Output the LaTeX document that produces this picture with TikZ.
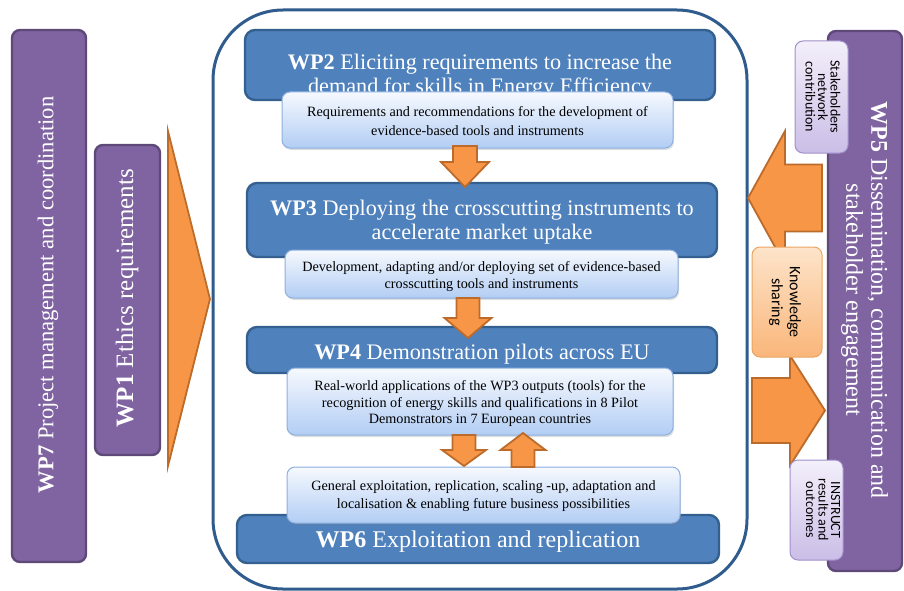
\documentclass[tikz,border=0pt]{standalone}
\usepackage{fontspec}
\setmainfont{Liberation Serif}
\newfontfamily\timesfam{Liberation Serif}
\newfontfamily\calib{Carlito}
\usetikzlibrary{shadows}

\definecolor{framec}{HTML}{2F5C8C}
\definecolor{wpfill}{HTML}{4F81BD}
\definecolor{wpedge}{HTML}{34608F}
\definecolor{lbtop}{HTML}{F6F9FE}
\definecolor{lbbot}{HTML}{B2CDF4}
\definecolor{lbedge}{HTML}{8DB0DF}
\definecolor{purfill}{HTML}{8064A2}
\definecolor{puredge}{HTML}{5E4979}
\definecolor{lavtop}{HTML}{F3EFFA}
\definecolor{lavbot}{HTML}{CBBEE7}
\definecolor{lavedge}{HTML}{A190CA}
\definecolor{ortop}{HTML}{FDE4CA}
\definecolor{orbot}{HTML}{FAB67A}
\definecolor{oredge}{HTML}{EAA363}
\definecolor{arrfill}{HTML}{F79646}
\definecolor{arredge}{HTML}{BC6B2B}

% vertical block arrow: centre x, start y, head base y, tip y, half shaft, half head
\newcommand\vblockarrow[6]{%
  \draw[blockarrow] ({#1-#5},#2) -- ({#1+#5},#2) -- ({#1+#5},#3) -- ({#1+#6},#3)
    -- (#1,#4) -- ({#1-#6},#3) -- ({#1-#5},#3) -- cycle;}
% horizontal block arrow: centre y, start x, head base x, tip x, half shaft, half head
\newcommand\hblockarrow[6]{%
  \draw[blockarrow] (#2,{#1-#5}) -- (#3,{#1-#5}) -- (#3,{#1-#6}) -- (#4,#1)
    -- (#3,{#1+#6}) -- (#3,{#1+#5}) -- (#2,{#1+#5}) -- cycle;}

\begin{document}
\begin{tikzpicture}[x=1pt,y=-1pt,
  every node/.style={inner sep=0pt, outer sep=0pt},
  frame/.style={draw=framec, line width=3pt, rounded corners=70pt},
  wpbox/.style={draw=wpedge, fill=wpfill, line width=2.4pt, rounded corners=10pt},
  lightbox/.style={draw=lbedge, line width=1pt, top color=lbtop, bottom color=lbbot,
    rounded corners=8pt,
    drop shadow={opacity=0.25, shadow xshift=1pt, shadow yshift=-2pt}},
  purbox/.style={draw=puredge, fill=purfill, line width=2.4pt, rounded corners=8pt},
  lavbox/.style={draw=lavedge, line width=1pt, top color=lavtop, bottom color=lavbot,
    rounded corners=8pt},
  knowbox/.style={draw=oredge, line width=1pt, top color=ortop, bottom color=orbot,
    rounded corners=8pt},
  blockarrow/.style={draw=arredge, fill=arrfill, line width=1.8pt, line join=miter},
  title/.style={text=white, align=center, font=\timesfam\fontsize{22.2}{23.5}\selectfont},
  desc/.style={text=black, align=center, font=\timesfam\fontsize{14.2}{18.5}\selectfont},
  side/.style={text=black, align=center, font=\calib\fontsize{14}{12.5}\selectfont},
]
\useasboundingbox (0,0) rectangle (904,591);

% left column: management and ethics
\node[purbox, minimum width=74pt, minimum height=532pt] (wp7) at (49,296) {};
\node[title, rotate=90, font=\timesfam\fontsize{22.6}{24}\selectfont] (wp7t) at (48,295) {\textbf{WP7} Project management and coordination};
\node[purbox, minimum width=65pt, minimum height=310pt] (wp1) at (127.5,300) {};
\node[title, rotate=90, font=\timesfam\fontsize{25}{26}\selectfont] (wp1t) at (127,298) {\textbf{WP1} Ethics requirements};
\draw[blockarrow] (168,131) -- (210,299) -- (168,466) -- cycle;

% central frame
\node[frame, minimum width=534pt, minimum height=579pt] (frame) at (480,299.5) {};

% work packages
\node[wpbox, minimum width=470pt, minimum height=70pt] (wp2) at (480,65) {};
\node[title] (wp2t) at (480,76) {\textbf{WP2} Eliciting requirements to increase the\\demand for skills in Energy Efficiency};
\node[wpbox, minimum width=470pt, minimum height=74pt] (wp3) at (482,220) {};
\node[title] (wp3t) at (482,222) {\textbf{WP3} Deploying the crosscutting instruments to\\accelerate market uptake};
\node[wpbox, minimum width=470pt, minimum height=46pt] (wp4) at (482,350) {};
\begin{scope}
  \clip (247,327) rectangle (717,363);
  \node[title] (wp4t) at (482,354) {\textbf{WP4} Demonstration pilots across EU};
\end{scope}
\node[wpbox, minimum width=482pt, minimum height=48pt] (wp6) at (478,539) {};
\begin{scope}
  \clip (237,515) rectangle (719,551);
  \node[title, font=\timesfam\fontsize{24}{26}\selectfont] (wp6t) at (478,542) {\textbf{WP6} Exploitation and replication};
\end{scope}

% outcome boxes
\node[lightbox, minimum width=391pt, minimum height=56pt] (lb1) at (477.5,120) {};
\node[desc] (lb1t) at (477.5,121) {Requirements and recommendations for the development of\\evidence-based tools and instruments};
\node[lightbox, minimum width=393pt, minimum height=48pt] (lb2) at (481.5,274) {};
\node[desc, font=\timesfam\fontsize{14.2}{17}\selectfont] (lb2t) at (481.5,277) {Development, adapting and/or deploying set of evidence-based\\crosscutting tools and instruments};
\node[lightbox, minimum width=386pt, minimum height=67pt] (lb3) at (480,401.5) {};
\node[desc, font=\timesfam\fontsize{14.2}{16.5}\selectfont] (lb3t) at (480,404) {Real-world applications of the WP3 outputs (tools) for the\\recognition of energy skills and qualifications in 8 Pilot\\Demonstrators in 7 European countries};
\node[lightbox, minimum width=393pt, minimum height=56pt] (lb4) at (483.5,495) {};
\node[desc] (lb4t) at (483.5,496) {General exploitation, replication, scaling -up, adaptation and\\localisation \& enabling future business possibilities};

% flow between packages
\vblockarrow{465}{146}{162}{187}{12}{24}
\vblockarrow{468}{298}{318}{338}{11.5}{23.5}
\vblockarrow{464}{435}{450}{466}{11.5}{22}
\vblockarrow{523}{467}{450}{433}{11.5}{22.5}

% dissemination column
\node[purbox, minimum width=74pt, minimum height=540pt] (wp5) at (865,301) {};
\node[title, rotate=-90, font=\timesfam\fontsize{24}{25}\selectfont] (wp5t) at (864.5,300) {\textbf{WP5} Dissemination, communication and\\stakeholder engagement};
\hblockarrow{198}{822}{785}{748}{33.5}{67}
\hblockarrow{410.5}{752}{790}{825}{32.5}{55}
\node[lavbox, minimum width=53pt, minimum height=112pt] (stake) at (821.5,97) {};
\node[side, rotate=-90] (staket) at (823,97) {Stakeholders\\network\\contribution};
\node[lavbox, minimum width=53pt, minimum height=100pt] (instr) at (816.5,510) {};
\node[side, rotate=-90] (instrt) at (823,510) {INSTRUCT\\results and\\outcomes};
\node[knowbox, minimum width=70pt, minimum height=110pt] (know) at (787,302) {};
\node[side, rotate=-90, font=\calib\fontsize{16}{18}\selectfont] (knowt) at (785,302) {Knowledge\\sharing};
\end{tikzpicture}
\end{document}
